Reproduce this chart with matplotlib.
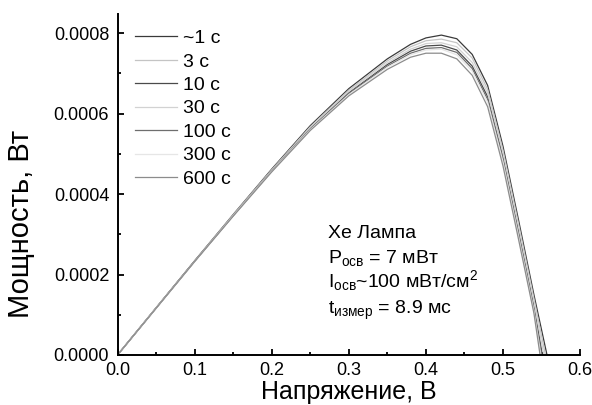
import numpy as np
import matplotlib
matplotlib.use("Agg")
import matplotlib.pyplot as plt
from matplotlib.ticker import MultipleLocator, FormatStrFormatter

plt.rcParams["font.family"] = ["Liberation Sans", "DejaVu Sans"]
plt.rcParams["mathtext.fontset"] = "custom"
plt.rcParams["mathtext.rm"] = "Liberation Sans"
plt.rcParams["mathtext.it"] = "Liberation Sans:italic"

# ── data (power in units of 1e-4 W) ───────────────────────────────────────────
voltage = [0.0, 0.05, 0.10, 0.15, 0.20, 0.25, 0.30, 0.35, 0.38, 0.40,
           0.42, 0.44, 0.46, 0.48, 0.50, 0.52, 0.54]

labels = ["~1 с", "3 с", "10 с", "30 с", "100 с", "300 с", "600 с"]

p_1s   = [0, 1.17, 2.34, 3.49, 4.62, 5.70, 6.62, 7.36, 7.72, 7.88, 7.95, 7.86, 7.47, 6.70, 5.18, 3.36, 1.50]
p_3s   = [0, 1.17, 2.34, 3.48, 4.60, 5.67, 6.58, 7.31, 7.66, 7.81, 7.85, 7.76, 7.38, 6.60, 5.08, 3.26, 1.40]
p_10s  = [0, 1.17, 2.33, 3.47, 4.58, 5.63, 6.52, 7.22, 7.55, 7.68, 7.70, 7.58, 7.18, 6.42, 4.92, 3.10, 1.22]
p_30s  = [0, 1.17, 2.33, 3.47, 4.59, 5.65, 6.55, 7.26, 7.60, 7.74, 7.76, 7.66, 7.27, 6.51, 5.00, 3.18, 1.32]
p_100s = [0, 1.16, 2.33, 3.46, 4.57, 5.62, 6.50, 7.18, 7.50, 7.62, 7.64, 7.52, 7.12, 6.35, 4.86, 3.03, 1.16]
p_300s = [0, 1.16, 2.32, 3.46, 4.56, 5.60, 6.47, 7.15, 7.46, 7.58, 7.60, 7.46, 7.05, 6.28, 4.79, 2.96, 1.10]
p_600s = [0, 1.16, 2.32, 3.45, 4.55, 5.58, 6.44, 7.10, 7.40, 7.50, 7.50, 7.36, 6.95, 6.17, 4.69, 2.88, 1.04]

# open-circuit voltage of each curve (P = 0 there)
voc = [0.557, 0.555, 0.551, 0.553, 0.550, 0.549, 0.548]

powers = [p_1s, p_3s, p_10s, p_30s, p_100s, p_300s, p_600s]
colors = ["#3a3a3a", "#c4c4c4", "#4a4a4a", "#d2d2d2", "#6e6e6e", "#e6e6e6", "#8c8c8c"]

# ── plot ──────────────────────────────────────────────────────────────────────
fig = plt.figure(figsize=(5.92, 4.05), dpi=100)
ax = fig.add_axes([0.1985, 0.1235, 0.7815, 0.8415])

for p, v_end, lab, col in zip(powers, voc, labels, colors):
    xs = voltage + [v_end]
    ys = np.array(p + [0.0]) * 1e-4
    ax.plot(xs, ys, color=col, linewidth=0.9, label=lab)

ax.set_xlim(0, 0.6)
ax.set_ylim(0, 0.000847)

ax.spines["top"].set_visible(False)
ax.spines["right"].set_visible(False)
for s in ("left", "bottom"):
    ax.spines[s].set_linewidth(1.4)

ax.xaxis.set_major_locator(MultipleLocator(0.1))
ax.xaxis.set_minor_locator(MultipleLocator(0.05))
ax.yaxis.set_major_locator(MultipleLocator(0.0002))
ax.yaxis.set_minor_locator(MultipleLocator(0.0001))
ax.xaxis.set_major_formatter(FormatStrFormatter("%.1f"))
ax.yaxis.set_major_formatter(FormatStrFormatter("%.4f"))
ax.tick_params(which="both", direction="in", top=False, right=False, width=1.3)
ax.tick_params(which="major", length=4.5, labelsize=13, pad=5)
ax.tick_params(which="minor", length=2.5)
ax.tick_params(axis="y", which="major", pad=6)

ax.set_xlabel("Напряжение, В", fontsize=18, labelpad=1)
ax.set_ylabel("Мощность, Вт", fontsize=21)
ax.yaxis.set_label_coords(-0.178, 0.385)

ax.legend(loc="upper left", bbox_to_anchor=(0.037, 0.955), frameon=False,
          fontsize=14, handlelength=2.2, handletextpad=0.3,
          labelspacing=0.3, borderaxespad=0, borderpad=0)

ax.text(0.455, 0.343, "Xe Лампа", transform=ax.transAxes, fontsize=14, va="baseline")
ax.text(0.455, 0.270, r"P$_{\mathrm{осв}}$ = 7 мВт", transform=ax.transAxes,
        fontsize=14, va="baseline")
ax.text(0.455, 0.199, r"I$_{\mathrm{осв}}$~100 мВт/см$^{2}$", transform=ax.transAxes,
        fontsize=14, va="baseline")
ax.text(0.455, 0.120, r"t$_{\mathrm{измер}}$ = 8.9 мс", transform=ax.transAxes,
        fontsize=14, va="baseline")

fig.savefig("out.png", dpi=100)
